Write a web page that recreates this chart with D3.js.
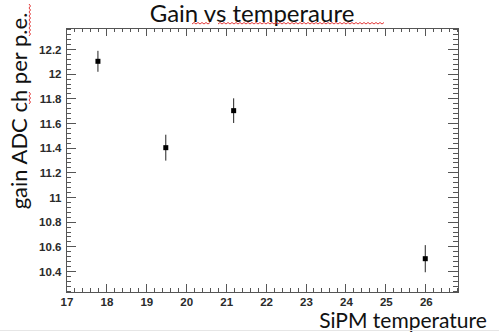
<!DOCTYPE html>
<html>
<head>
<meta charset="utf-8">
<script src="https://cdn.jsdelivr.net/npm/d3@7"></script>
<style>
    body { margin: 0; background: #fff; }
    svg { display: block; }
    .tick text { font-family: "Liberation Sans", Arial, sans-serif; font-weight: bold; font-size: 11.5px; fill: #2a2a2a; }
    .domain { display: none; }
    .big { font-family: Lato, "Open Sans", sans-serif; fill: #111; }
    .squiggle { fill: none; stroke: #e23a3a; stroke-width: 1; }
</style>
</head>
<body>
<div id="chart"></div>
<script>
// data
const temps = [17.8, 19.5, 21.2, 26.0];
const gains = [12.1, 11.4, 11.7, 10.5];
const gainErrs = [0.085, 0.105, 0.1, 0.11];
const xMajor = [17, 18, 19, 20, 21, 22, 23, 24, 25, 26];
const yMajor = [10.4, 10.6, 10.8, 11, 11.2, 11.4, 11.6, 11.8, 12, 12.2];

const width = 499, height = 332;
const svg = d3.select("#chart").append("svg")
    .attr("width", width)
    .attr("height", height);

const x = d3.scaleLinear().domain([17, 26.82]).range([66, 458]);
const y = d3.scaleLinear().domain([10.23, 12.37]).range([292, 28]);

// minor ticks: 0.2 on x, 0.04 on y
const xMinor = d3.range(17, 26.82, 0.2).filter(v => Math.abs(v - Math.round(v)) > 1e-6);
const yMinor = d3.range(10.24, 12.37, 0.04).filter(v => Math.abs(v * 5 - Math.round(v * 5)) > 1e-6);

const fmt = v => String(+v.toFixed(1));

const yBot = y.range()[0], yTop = y.range()[1];
const xL = x.range()[0], xR = x.range()[1];

// frame
svg.append("rect")
    .attr("x", xL + 0.5).attr("y", yTop + 0.5)
    .attr("width", xR - xL)
    .attr("height", yBot - yTop)
    .attr("fill", "none").attr("stroke", "#555");

// tick labels from the axes
svg.append("g").attr("transform", `translate(0.5,${yBot + 0.5})`)
    .call(d3.axisBottom(x).tickValues(xMajor).tickSize(0).tickPadding(5).tickFormat(fmt));
svg.append("g").attr("transform", `translate(${xL + 0.5},0.5)`)
    .call(d3.axisLeft(y).tickValues(yMajor).tickSize(0).tickPadding(5).tickFormat(fmt));

// ticks pointing inward on all four sides
const tg = svg.append("g").attr("stroke", "#555").attr("stroke-width", 1);
function xTicks(vals, len, cls) {
    tg.selectAll("line." + cls).data(vals).enter().append("line")
        .attr("class", cls)
        .attr("x1", d => Math.round(x(d)) + 0.5).attr("x2", d => Math.round(x(d)) + 0.5)
        .attr("y1", yBot).attr("y2", yBot - len);
    tg.selectAll("line." + cls + "t").data(vals).enter().append("line")
        .attr("class", cls + "t")
        .attr("x1", d => Math.round(x(d)) + 0.5).attr("x2", d => Math.round(x(d)) + 0.5)
        .attr("y1", yTop).attr("y2", yTop + len);
}
function yTicks(vals, len, cls) {
    tg.selectAll("line." + cls).data(vals).enter().append("line")
        .attr("class", cls)
        .attr("y1", d => Math.round(y(d)) + 0.5).attr("y2", d => Math.round(y(d)) + 0.5)
        .attr("x1", xL).attr("x2", xL + len);
    tg.selectAll("line." + cls + "r").data(vals).enter().append("line")
        .attr("class", cls + "r")
        .attr("y1", d => Math.round(y(d)) + 0.5).attr("y2", d => Math.round(y(d)) + 0.5)
        .attr("x1", xR).attr("x2", xR - len);
}
xTicks(xMajor, 8, "xmaj");
xTicks(xMinor, 4, "xmin");
yTicks(yMajor, 10, "ymaj");
yTicks(yMinor, 5, "ymin");

// points with error bars
const pts = temps.map((t, i) => ({t: t, g: gains[i], e: gainErrs[i]}));
const gp = svg.append("g");
gp.selectAll("line.err").data(pts).enter().append("line")
    .attr("class", "err")
    .attr("x1", d => x(d.t)).attr("x2", d => x(d.t))
    .attr("y1", d => y(d.g - d.e)).attr("y2", d => y(d.g + d.e))
    .attr("stroke", "#222").attr("stroke-width", 1);
gp.selectAll("rect.pt").data(pts).enter().append("rect")
    .attr("class", "pt")
    .attr("x", d => x(d.t) - 2.5).attr("y", d => y(d.g) - 2.5)
    .attr("width", 5).attr("height", 5)
    .attr("fill", "#000");

// titles
svg.append("text").attr("class", "big")
    .attr("x", 252).attr("y", 22)
    .attr("text-anchor", "middle")
    .style("font-size", "24px")
    .text("Gain vs temperaure");

svg.append("text").attr("class", "big")
    .attr("x", 403).attr("y", 328)
    .attr("text-anchor", "middle")
    .style("font-size", "21px")
    .text("SiPM temperature");

svg.append("text").attr("class", "big")
    .attr("transform", "translate(27,111) rotate(-90)")
    .attr("text-anchor", "middle")
    .style("font-size", "22px")
    .text("gain ADC ch per p.e.");

// spell-check squiggles
function squiggleH(x0, x1, yy) {
    const p = d3.path();
    p.moveTo(x0, yy);
    let up = true;
    for (let xx = x0 + 2; xx <= x1; xx += 2) { p.lineTo(xx, yy + (up ? -1.5 : 0)); up = !up; }
    return p.toString();
}
function squiggleV(y0, y1, xx) {
    const p = d3.path();
    p.moveTo(xx, y0);
    let up = true;
    for (let yy = y0 + 2; yy <= y1; yy += 2) { p.lineTo(xx + (up ? 1.5 : 0), yy); up = !up; }
    return p.toString();
}
svg.append("path").attr("class", "squiggle").attr("d", squiggleH(192, 210, 24));
svg.append("path").attr("class", "squiggle").attr("d", squiggleH(218, 385, 24));
svg.append("path").attr("class", "squiggle").attr("d", squiggleV(4, 37, 29));
svg.append("path").attr("class", "squiggle").attr("d", squiggleV(92, 104, 29));

svg.append("line").attr("x1", 0).attr("x2", width).attr("y1", 330.5).attr("y2", 330.5)
    .attr("stroke", "#e6e6e6");
</script>
</body>
</html>
